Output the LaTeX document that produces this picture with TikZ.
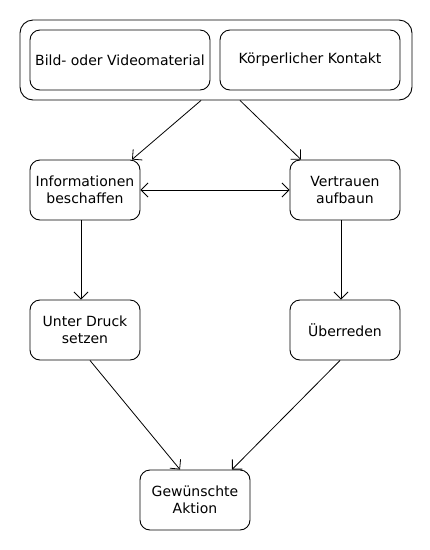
\documentclass[tikz,border=0pt]{standalone}
\usepackage{fontspec}
\setmainfont{DejaVu Sans}
\usepackage{tikz}
\usetikzlibrary{positioning,calc}
\usetikzlibrary{arrows.meta}
\tikzstyle{box} = [draw=black, line width=0.9pt, rounded corners=10pt, minimum width=110pt, minimum height=60pt, inner sep=2pt, align=center, font=\fontsize{14}{17}\selectfont]
\tikzstyle{group} = [draw=black, line width=0.9pt, rounded corners=13pt, minimum width=392pt, minimum height=80pt]
\tikzstyle{arrow} = [line width=0.8pt, -{Straight Barb[length=7pt,width=14pt]}]
\tikzstyle{biarrow} = [line width=0.8pt, {Straight Barb[length=7pt,width=14pt]}-{Straight Barb[length=7pt,width=14pt]}]

\begin{document}
\begin{tikzpicture}[x=1pt,y=-1pt]
        \useasboundingbox (0,0) rectangle (430,550);
        % Gruppe oben
        \node[group] (gruppe) at (216,60) {};
        \node[box, minimum width=180pt] (bild) at (120,60) {Bild- oder Videomaterial};
        \node[box, minimum width=180pt] (kontakt) at (310,60) {Körperlicher Kontakt};
        % Schritte
        \node[box] (info) at (85,190) {Informationen\\beschaffen};
        \node[box] (vertrauen) at (345,190) {Vertrauen\\aufbaun};
        \node[box] (druck) at (85,330) {Unter Druck\\setzen};
        \node[box] (ueberreden) at (345,330) {Überreden};
        \node[box] (aktion) at (195,500) {Gewünschte\\Aktion};
        % Pfeile
        \draw[arrow] ([xshift=-15pt]gruppe.south) -- ([xshift=47pt]info.north);
        \draw[arrow] ([xshift=24pt]gruppe.south) -- ([xshift=-44pt]vertrauen.north);
        \draw[biarrow] (info.east) -- (vertrauen.west);
        \draw[arrow] ([xshift=-4pt]info.south) -- ([xshift=-4pt]druck.north);
        \draw[arrow] ([xshift=-4pt]vertrauen.south) -- ([xshift=-4pt]ueberreden.north);
        \draw[arrow] ([xshift=5pt]druck.south) -- ([xshift=-15pt]aktion.north);
        \draw[arrow] ([xshift=-5pt]ueberreden.south) -- ([xshift=37pt]aktion.north);
    \end{tikzpicture}
\end{document}
